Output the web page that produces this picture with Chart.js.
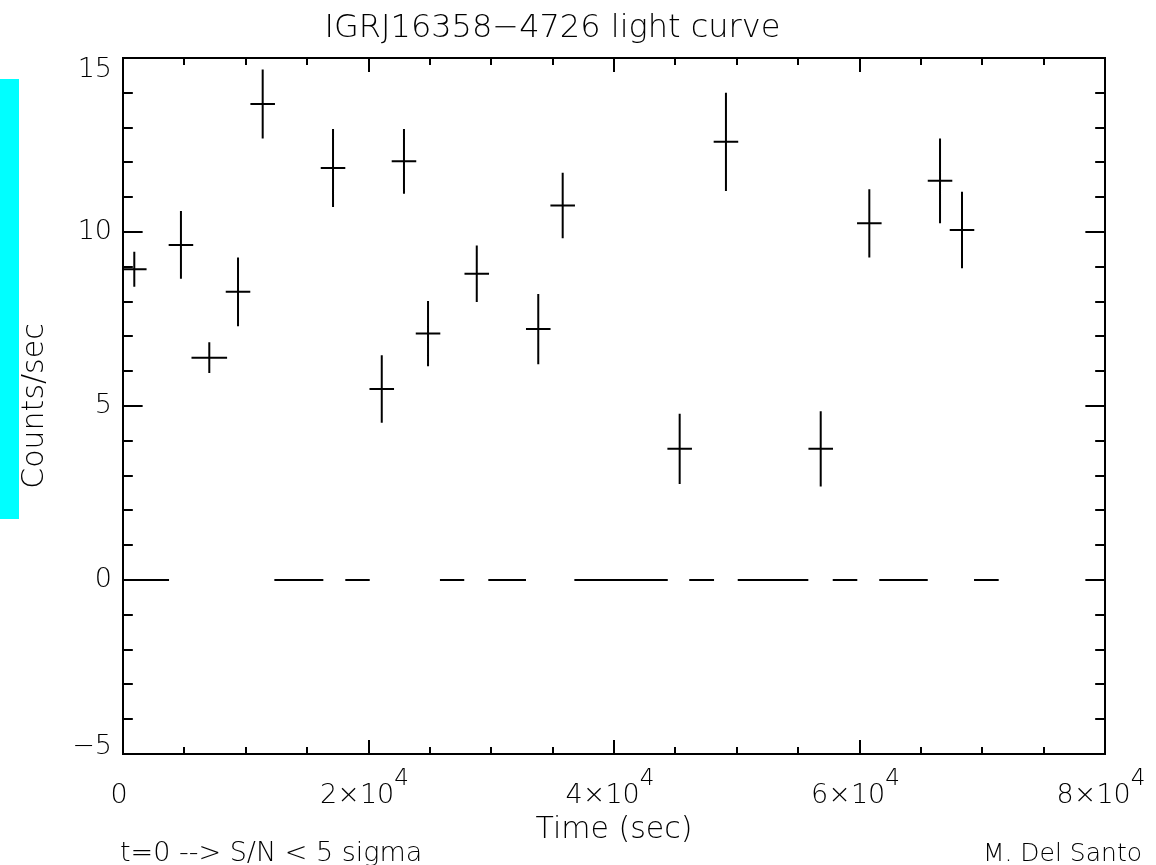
<!DOCTYPE html>
<html lang="en">
<head>
<meta charset="UTF-8">
<title>IGRJ16358-4726 light curve</title>
<script src="https://cdn.jsdelivr.net/npm/chart.js"></script>
<style>
  html, body { margin: 0; padding: 0; background: #fff; }
  #wrap { position: relative; width: 1156px; height: 865px; }
</style>
</head>
<body>
<div id="wrap"><canvas id="lc"></canvas></div>
<script>
// light curve bins: centre time (s), count rate, 1-sigma error, half bin width (s)
const binTime = [920, 4720, 7030, 9370, 11380, 17110, 21080, 22890, 24850,
                 28820, 33830, 35820, 45350, 49120, 56840, 60800, 66560, 68350];
const binRate = [8.93, 9.63, 6.39, 8.28, 13.68, 11.84, 5.49, 12.03, 7.08,
                 8.80, 7.21, 10.76, 3.77, 12.59, 3.77, 10.25, 11.47, 10.06];
const binErr  = [0.50, 0.97, 0.44, 0.99, 0.99, 1.12, 0.97, 0.93, 0.94,
                 0.81, 1.01, 0.94, 1.01, 1.41, 1.08, 0.98, 1.22, 1.10];
const binHalf = [1000, 1000, 1450, 1000, 1000, 1000, 1000, 1000, 1000,
                 1000, 1000, 1000, 1000, 1000, 1000, 1000, 1000, 1000];

// intervals put at t=0 because S/N < 5 sigma
const lowStart = [0, 12330, 18110, 25820, 29760, 36770, 46130, 50080, 57820, 61610, 69330];
const lowEnd   = [3750, 16320, 20100, 27800, 32830, 44380, 48150, 55830, 59820, 65560, 71340];

// axis ticks
const xMajor = [0, 20000, 40000, 60000, 80000];
const xLabelBase = ['0', '2\u00d710', '4\u00d710', '6\u00d710', '8\u00d710'];
const xLabelExp = ['', '4', '4', '4', '4'];
const xMinorStep = 5000;
const yMajor = [-5, 0, 5, 10, 15];
const yLabels = ['\u22125', '0', '5', '10', '15'];
const yMinorStep = 1;

const FONT = "'DejaVu Sans', sans-serif";
const W = '200 ';

function errorBars(vertical) {
  const pts = [];
  binTime.forEach((t, i) => {
    if (vertical) {
      pts.push({x: t, y: binRate[i] - binErr[i]}, {x: t, y: binRate[i] + binErr[i]});
    } else {
      pts.push({x: t - binHalf[i], y: binRate[i]}, {x: t + binHalf[i], y: binRate[i]});
    }
    pts.push({x: t, y: null});
  });
  return pts;
}

function lowSegments() {
  const pts = [];
  lowStart.forEach((s, i) => {
    pts.push({x: s, y: 0}, {x: lowEnd[i], y: 0}, {x: lowEnd[i], y: null});
  });
  return pts;
}

// IDL style box: inward ticks on all four sides, labels and footnotes
const idlFrame = {
  id: 'idlFrame',
  beforeDraw(chart) {
    const ctx = chart.ctx;
    ctx.save();
    ctx.fillStyle = '#00ffff';
    ctx.fillRect(0, 79, 19, 440);
    ctx.restore();
  },
  afterDraw(chart) {
    const {ctx, chartArea: a, scales: {x, y}} = chart;
    const w = a.right - a.left, h = a.bottom - a.top;
    const xLen = 0.02 * h, yLen = 0.02 * w;
    ctx.save();
    ctx.strokeStyle = '#000';
    ctx.lineWidth = 2;
    ctx.strokeRect(a.left, a.top, w, h);

    ctx.beginPath();
    for (let v = x.min; v <= x.max; v += xMinorStep) {
      const px = Math.round(x.getPixelForValue(v));
      const len = xMajor.includes(v) ? xLen : xLen / 2;
      ctx.moveTo(px, a.bottom); ctx.lineTo(px, a.bottom - len);
      ctx.moveTo(px, a.top); ctx.lineTo(px, a.top + len);
    }
    for (let v = y.min; v <= y.max; v += yMinorStep) {
      const py = Math.round(y.getPixelForValue(v));
      const len = yMajor.includes(v) ? yLen : yLen / 2;
      ctx.moveTo(a.left, py); ctx.lineTo(a.left + len, py);
      ctx.moveTo(a.right, py); ctx.lineTo(a.right - len, py);
    }
    ctx.stroke();

    ctx.fillStyle = '#000';
    // y labels, end labels kept inside the axis range
    ctx.font = W + '27px ' + FONT;
    ctx.textAlign = 'right';
    ctx.textBaseline = 'middle';
    yMajor.forEach((v, i) => {
      let py = y.getPixelForValue(v);
      py = Math.min(Math.max(py, a.top + 12), a.bottom - 7);
      ctx.fillText(yLabels[i], a.left - 11, py);
    });

    // x labels with raised exponent
    ctx.textAlign = 'left';
    ctx.textBaseline = 'alphabetic';
    xMajor.forEach((v, i) => {
      const px = x.getPixelForValue(v);
      ctx.font = W + '27px ' + FONT;
      const wb = ctx.measureText(xLabelBase[i]).width;
      ctx.font = W + '23px ' + FONT;
      const we = xLabelExp[i] ? ctx.measureText(xLabelExp[i]).width : 0;
      const x0 = px - (wb + we) / 2 - 4;
      ctx.font = W + '27px ' + FONT;
      ctx.fillText(xLabelBase[i], x0, 803);
      if (xLabelExp[i]) {
        ctx.font = W + '23px ' + FONT;
        ctx.fillText(xLabelExp[i], x0 + wb, 785);
      }
    });

    ctx.textAlign = 'left';
    ctx.font = W + '27px ' + FONT;
    ctx.fillText('t=0 --> S/N < 5 sigma', 120, 861);
    ctx.textAlign = 'right';
    ctx.font = W + '25px ' + FONT;
    ctx.fillText('M. Del Santo', 1142, 861);
    ctx.restore();
  }
};

const lineStyle = {
  borderColor: '#000',
  borderWidth: 2,
  pointRadius: 0,
  tension: 0,
  fill: false,
  spanGaps: false
};

new Chart(document.getElementById('lc'), {
  type: 'line',
  data: {
    datasets: [
      {label: 'rate error', data: errorBars(true), ...lineStyle},
      {label: 'bin width', data: errorBars(false), ...lineStyle},
      {label: 'S/N < 5 sigma', data: lowSegments(), ...lineStyle}
    ]
  },
  options: {
    responsive: true,
    maintainAspectRatio: false,
    animation: false,
    events: [],
    layout: {padding: {left: 0, right: 51, top: 0, bottom: 0}},
    plugins: {
      legend: {display: false},
      tooltip: {enabled: false},
      title: {
        display: true,
        text: 'IGRJ16358\u22124726 light curve',
        color: '#000',
        font: {family: FONT, size: 32, weight: 200},
        padding: {top: 9, bottom: 10.6}
      }
    },
    scales: {
      x: {
        type: 'linear',
        min: 0,
        max: 80000,
        ticks: {display: false},
        grid: {display: false, drawTicks: false},
        border: {display: false},
        title: {
          display: true,
          text: 'Time (sec)',
          color: '#000',
          font: {family: FONT, size: 30, weight: 200},
          padding: {top: 0, bottom: 17}
        },
        afterFit(scale) { scale.height = 111; }
      },
      y: {
        type: 'linear',
        min: -5,
        max: 15,
        ticks: {display: false},
        grid: {display: false, drawTicks: false},
        border: {display: false},
        title: {
          display: true,
          text: 'Counts/sec',
          color: '#000',
          font: {family: FONT, size: 30, weight: 200},
          padding: {top: 17, bottom: 0}
        },
        afterFit(scale) { scale.width = 123; }
      }
    }
  },
  plugins: [idlFrame]
});
</script>
</body>
</html>
